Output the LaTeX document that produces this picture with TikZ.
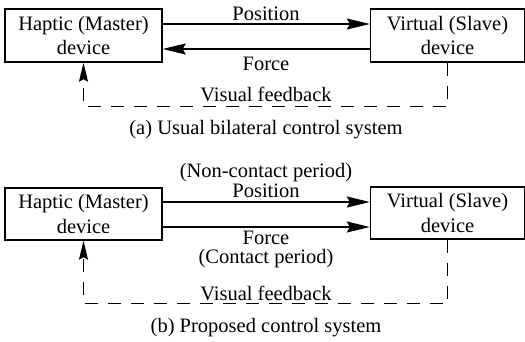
\documentclass[tikz,border=0pt]{standalone}
\usepackage{fontspec}
\setmainfont{Liberation Serif}
\usetikzlibrary{arrows.meta}

\begin{document}
\begin{tikzpicture}[x=1pt, y=-1pt,
    font=\fontsize{20.5}{24.5}\selectfont,
    dev/.style={draw, line width=1.4pt, minimum width=157pt, minimum height=53pt, inner sep=0pt, align=center},
    sig/.style={line width=1.3pt, -{Stealth[length=23pt, width=11pt, inset=3pt]}},
    vis/.style={line width=1.3pt, dash pattern=on 13pt off 10pt, -{Stealth[length=19pt, width=9pt, inset=2.5pt]}},
    lbl/.style={inner sep=0pt, align=center}]
    \useasboundingbox (0,0) rectangle (525,342);

        % (a) usual bilateral control
        \node[dev] (m1) at (83.5, 35.5) {Haptic (Master)\\device};
        \node[dev, minimum width=154pt] (s1) at (447.5, 35.5) {Virtual (Slave)\\device};

        \draw[sig] ([yshift=11.5pt]m1.east) -- ([yshift=11.5pt]s1.west);
        \draw[sig] ([yshift=-13.5pt]s1.west) -- ([yshift=-13.5pt]m1.east);
        \draw[vis] (s1.south) -- ++(0,44) -| (m1.south);

        \node[lbl] (pos1) at (266, 14) {Position};
        \node[lbl] (frc1) at (266, 64) {Force};
        \node[lbl] (vis1) at (266, 94.5) {Visual feedback};
        \node[lbl] (capa) at (266, 130) {(a) Usual bilateral control system};

        % (b) proposed control
        \node[dev, minimum height=52pt] (m2) at (83.5, 214) {Haptic (Master)\\device};
        \node[dev, minimum height=52pt, minimum width=154pt] (s2) at (447.5, 213) {Virtual (Slave)\\device};

        \draw[sig] ([yshift=12pt]m2.east) -- ([yshift=12pt]m2.east -| s2.west);
        \draw[sig] ([yshift=-13pt]m2.east) -- ([yshift=-13pt]m2.east -| s2.west);
        \draw[vis] (s2.south) -- ++(0,64) -| (m2.south);

        \node[lbl, font=\fontsize{20.5}{20}\selectfont] (pos2) at (266, 180) {(Non-contact period)\\Position};
        \node[lbl, font=\fontsize{20.5}{19}\selectfont] (frc2) at (266, 249.5) {Force\\(Contact period)};
        \node[lbl] (vis2) at (266, 293.5) {Visual feedback};
        \node[lbl] (capb) at (266, 328) {(b) Proposed control system};
    \end{tikzpicture}
\end{document}
